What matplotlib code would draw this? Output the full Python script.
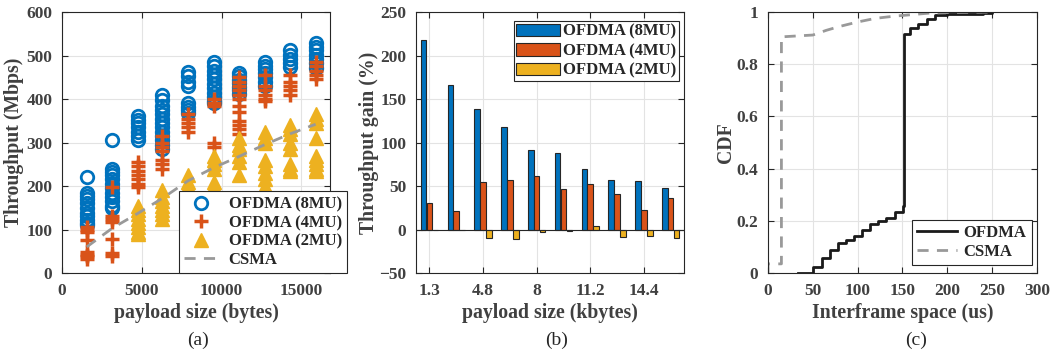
import matplotlib
matplotlib.use("Agg")
import matplotlib.pyplot as plt
import numpy as np

plt.rcParams['font.family'] = ['Liberation Serif', 'DejaVu Serif']
plt.rcParams['font.weight'] = 'bold'

# (a) throughput vs payload
payload = [1550, 3150, 4750, 6300, 7900, 9500, 11100, 12700, 14300, 15900]
thr_8mu = [
    [220, 185, 178, 170, 160, 150, 138, 130, 122, 115, 110],
    [305, 240, 232, 225, 215, 205, 195, 185, 175, 165, 155, 150],
    [360, 352, 345, 335, 325, 315, 305],
    [410, 398, 385, 375, 365, 355, 345, 335, 325, 315, 305, 295, 285],
    [462, 452, 440, 430, 392, 382, 375, 368],
    [485, 475, 465, 455, 445, 435, 425, 415, 405, 395, 390],
    [460, 452, 444, 436, 428, 420, 412],
    [485, 477, 468, 460, 450, 440, 430],
    [512, 502, 492, 482, 474],
    [528, 520, 512, 502, 492, 482, 472],
]
thr_4mu = [
    [105, 100, 95, 75, 48, 42, 38, 33],
    [197, 130, 125, 118, 78, 45, 40],
    [255, 245, 235, 225, 215, 205, 198],
    [315, 300, 290, 280, 260, 250, 240],
    [365, 355, 345, 335, 325],
    [400, 392, 383, 300, 290],
    [450, 440, 430, 420, 410, 400, 385, 370, 350, 340, 330, 320],
    [455, 430, 420, 410, 400, 395],
    [455, 440, 430, 420, 410],
    [485, 475, 465, 455, 445],
]
thr_2mu = [
    [],
    [],
    [155, 145, 135, 125, 115, 105, 95, 90],
    [190, 175, 165, 155, 145, 135, 125],
    [225, 210, 200, 190, 180],
    [270, 260, 250, 240, 210, 200, 190],
    [310, 295, 285, 270, 255, 225],
    [325, 310, 300, 260, 245, 230, 215, 200],
    [340, 330, 320, 300, 285, 250, 240, 235],
    [365, 355, 345, 310, 270, 260, 250, 240, 235],
]
thr_csma = [60, 103, 137, 172, 212, 242, 268, 295, 320, 342]

# (b) throughput gain
gain_labels = ['1.3', '4.8', '8', '11.2', '14.4']
gain_8mu = [218, 166, 138, 118, 91, 88, 70, 57, 56, 48]
gain_4mu = [31, 21, 55, 57, 61, 46, 52, 41, 23, 36]
gain_2mu = [0, 0, -10, -11, -3, -2, 4, -9, -8, -10]

# (c) CDF of interframe space
ofdma_ifs = [33, 50.6, 60.7, 69.3, 78.6, 87.2, 96.1, 104.7, 114, 123.2, 131.9, 141.1,
             150.4, 152, 158, 167.7, 177, 186, 200, 220, 240, 250]
ofdma_cdf = [0, 0.022, 0.056, 0.088, 0.116, 0.126, 0.142, 0.165, 0.188, 0.2, 0.21, 0.233,
             0.255, 0.915, 0.938, 0.955, 0.975, 0.988, 0.991, 0.993, 0.996, 1.0]
csma_ifs = [0, 0, 15, 15, 50, 65, 80, 100, 120, 140, 160, 180, 200, 250]
csma_cdf = [0, 0.035, 0.035, 0.905, 0.912, 0.93, 0.945, 0.962, 0.976, 0.984, 0.99, 0.996, 0.998, 1.0]

blue = '#0072BD'
red = '#D95319'
yellow = '#EDB120'
grey = '#999999'
txt = '#404040'
edge = '#262626'


def style(ax):
    ax.grid(True, color='#e3e3e3', linewidth=0.8)
    ax.set_axisbelow(True)
    for s in ax.spines.values():
        s.set_color(edge)
        s.set_linewidth(0.8)
    ax.tick_params(direction='in', length=4, width=0.8, color=edge, labelcolor=txt,
                   labelsize=12.5, top=True, right=True, pad=7)
    for t in ax.get_xticklabels() + ax.get_yticklabels():
        t.set_fontweight('bold')


fig = plt.figure(figsize=(10.6, 3.55), dpi=100)

# ---- (a)
ax1 = fig.add_axes([0.0585, 0.231, 0.2528, 0.735])
bx = np.concatenate([[payload[i]] * len(v) for i, v in enumerate(thr_8mu)])
by = np.concatenate(thr_8mu)
rx = np.concatenate([[payload[i]] * len(v) for i, v in enumerate(thr_4mu)])
ry = np.concatenate(thr_4mu)
yx = np.concatenate([[payload[i]] * len(v) for i, v in enumerate(thr_2mu)])
yy = np.concatenate([v for v in thr_2mu])
ax1.plot(bx, by, 'o', mfc='none', mec=blue, mew=2, ms=9, label='OFDMA (8MU)')
ax1.plot(rx, ry, '+', color=red, mew=2.5, ms=10, label='OFDMA (4MU)')
ax1.plot(yx, yy, '^', color=yellow, ms=10.5, label='OFDMA (2MU)')
ax1.plot(payload, thr_csma, '--', color=grey, lw=2, dashes=(4, 3), label='CSMA')
ax1.set_xlim(0, 16800)
ax1.set_ylim(0, 600)
ax1.set_xticks([0, 5000, 10000, 15000])
ax1.set_yticks(range(0, 601, 100))
style(ax1)
ax1.set_xlabel('payload size (bytes)', fontsize=14.2, color=txt, fontweight='bold')
ax1.set_ylabel('Throughput (Mbps)', fontsize=14.2, color=txt, fontweight='bold')
ax1.xaxis.set_label_coords(0.5, -0.115)
ax1.yaxis.set_label_coords(-0.14, 0.5)
leg = ax1.legend(loc='lower right', bbox_to_anchor=(1.063, 0.0), borderaxespad=0,
                 fancybox=False, framealpha=1, edgecolor=edge, fontsize=12,
                 handlelength=2.1, labelspacing=0.15, borderpad=0.3, handletextpad=0.6)
leg.get_frame().set_linewidth(0.8)
for t in leg.get_texts():
    t.set_color('#262626')

# ---- (b)
ax2 = fig.add_axes([0.3925, 0.231, 0.2528, 0.735])
pos = np.arange(1, len(gain_8mu) + 1)
w = 0.21
ax2.bar(pos - 0.22, gain_8mu, w, color=blue, edgecolor=edge, lw=0.8, label='OFDMA (8MU)')
ax2.bar(pos, gain_4mu, w, color=red, edgecolor=edge, lw=0.8, label='OFDMA (4MU)')
ax2.bar(pos + 0.22, gain_2mu, w, color=yellow, edgecolor=edge, lw=0.8, label='OFDMA (2MU)')
ax2.axhline(0, color=edge, lw=0.8)
ax2.set_xlim(0.5, 10.5)
ax2.set_ylim(-50, 250)
ax2.set_xticks(pos[::2])
ax2.set_xticklabels(gain_labels)
ax2.set_yticks(range(-50, 251, 50))
style(ax2)
ax2.set_xlabel('payload size (kbytes)', fontsize=14.2, color=txt, fontweight='bold')
ax2.set_ylabel('Throughput gain (%)', fontsize=14.2, color=txt, fontweight='bold')
ax2.xaxis.set_label_coords(0.5, -0.115)
ax2.yaxis.set_label_coords(-0.14, 0.5)
leg = ax2.legend(loc='upper right', bbox_to_anchor=(0.98, 0.965), borderaxespad=0,
                 fancybox=False, framealpha=1, edgecolor=edge, fontsize=12,
                 handlelength=2.6, handleheight=0.8, labelspacing=0.2, borderpad=0.15,
                 handletextpad=0.2)
leg.get_frame().set_linewidth(0.8)
for t in leg.get_texts():
    t.set_color('#262626')

# ---- (c)
ax3 = fig.add_axes([0.7245, 0.231, 0.2538, 0.735])
ax3.plot(ofdma_ifs, ofdma_cdf, '-', color='#1a1a1a', lw=2, drawstyle='steps-post', label='OFDMA')
ax3.plot(csma_ifs, csma_cdf, '--', color=grey, lw=2, dashes=(4, 3), label='CSMA')
ax3.set_xlim(0, 300)
ax3.set_ylim(0, 1)
ax3.set_xticks(range(0, 301, 50))
ax3.set_yticks([0, 0.2, 0.4, 0.6, 0.8, 1])
ax3.set_yticklabels(['0', '0.2', '0.4', '0.6', '0.8', '1'])
style(ax3)
ax3.set_xlabel('Interframe space (us)', fontsize=14.2, color=txt, fontweight='bold')
ax3.set_ylabel('CDF', fontsize=14.2, color=txt, fontweight='bold')
ax3.xaxis.set_label_coords(0.5, -0.115)
ax3.yaxis.set_label_coords(-0.12, 0.5)
leg = ax3.legend(loc='lower right', bbox_to_anchor=(0.98, 0.03), borderaxespad=0,
                 fancybox=False, framealpha=1, edgecolor=edge, fontsize=12,
                 handlelength=2.4, labelspacing=0.2, borderpad=0.3, handletextpad=0.4)
leg.get_frame().set_linewidth(0.8)
for t in leg.get_texts():
    t.set_color('#262626')

for x, lab in [(198, '(a)'), (557, '(b)'), (916, '(c)')]:
    fig.text(x / 1060, 1 - 340 / 355, lab, ha='center', va='center', fontsize=14,
             fontweight='normal', color='#262626')

fig.savefig('out.png', dpi=100)
